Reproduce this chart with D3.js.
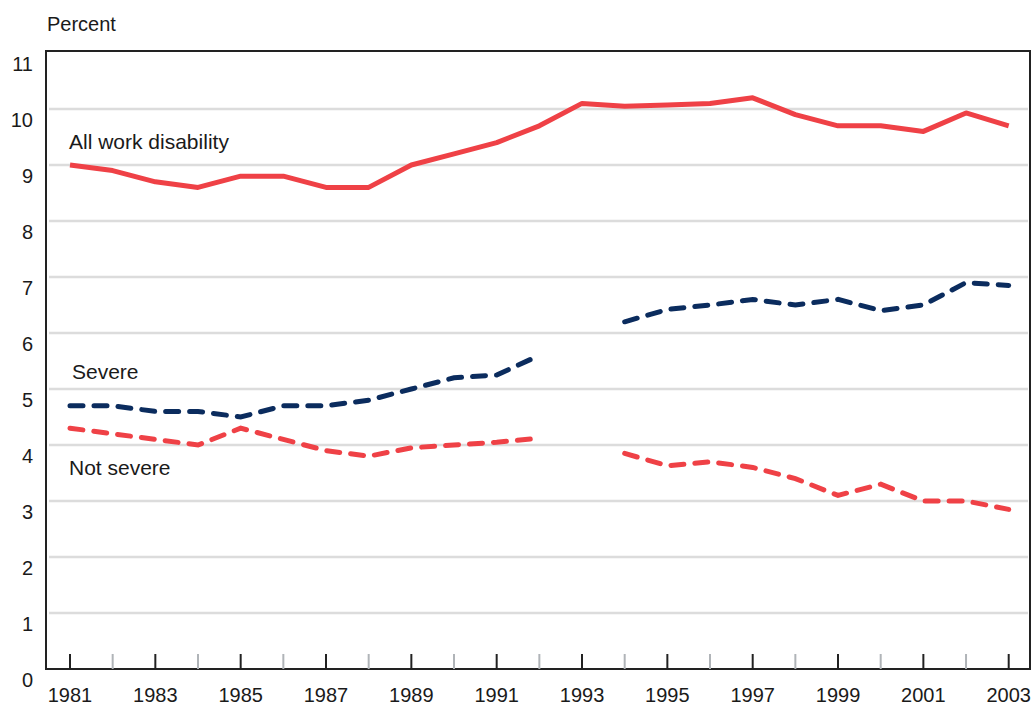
<!DOCTYPE html>
<html>
<head>
<meta charset="utf-8">
<script src="https://cdn.jsdelivr.net/npm/d3@7"></script>
<style>
  body { margin: 0; background: #fff; }
  text { font-family: "Liberation Sans", Arial, Helvetica, sans-serif; fill: #1a1a1a; }
</style>
</head>
<body>
<div id="chart"></div>
<script>
var years = d3.range(1981, 2004)
var allWork = [9.0, 8.9, 8.7, 8.6, 8.8, 8.8, 8.6, 8.6, 9.0, 9.2, 9.4, 9.7, 10.1, 10.05, 10.07, 10.1, 10.2, 9.9, 9.7, 9.7, 9.6, 9.93, 9.7]
var severe = [4.7, 4.7, 4.6, 4.6, 4.5, 4.7, 4.7, 4.8, 5.0, 5.2, 5.25, 5.6, null, 6.2, 6.42, 6.5, 6.6, 6.5, 6.6, 6.4, 6.5, 6.9, 6.85]
var notSevere = [4.3, 4.2, 4.1, 4.0, 4.3, 4.1, 3.9, 3.8, 3.95, 4.0, 4.05, 4.12, null, 3.85, 3.63, 3.7, 3.6, 3.4, 3.1, 3.3, 3.0, 3.0, 2.85]
var yTicks = [0, 1, 2, 3, 4, 5, 6, 7, 8, 9, 10, 11]
var xLabels = [1981, 1983, 1985, 1987, 1989, 1991, 1993, 1995, 1997, 1999, 2001, 2003]

var width = 1034,
    height = 708

var svg = d3.select("#chart")
  .append("svg")
    .attr("width", width)
    .attr("height", height)

var plotLeft = 46, plotRight = 1030, plotTop = 51, plotBottom = 669

var x = d3.scaleLinear()
  .domain([1981, 2003])
  .range([70, 1008.7])

var y = d3.scaleLinear()
  .domain([0, 11])
  .range([plotBottom, 53])

// gridlines
svg.selectAll("grid")
  .data(yTicks.filter(function(d) { return d > 0 && d < 11 }))
  .enter()
  .append("line")
    .attr("x1", plotLeft + 3)
    .attr("x2", plotRight - 2)
    .attr("y1", function(d) { return y(d) })
    .attr("y2", function(d) { return y(d) })
    .attr("stroke", "#dcdcdc")
    .attr("stroke-width", 2.5)

// frame
svg.append("path")
  .attr("d", "M" + plotLeft + "," + plotBottom + "V" + plotTop + "H" + plotRight + "V" + plotBottom + "Z")
  .attr("fill", "none")
  .attr("stroke", "#222")
  .attr("stroke-width", 2)

// x ticks
svg.selectAll("xtick")
  .data(years)
  .enter()
  .append("line")
    .attr("x1", function(d) { return x(d) })
    .attr("x2", function(d) { return x(d) })
    .attr("y1", plotBottom - 15)
    .attr("y2", plotBottom)
    .attr("stroke", function(d) { return d % 2 == 1 ? "#222" : "#b0b4b8" })
    .attr("stroke-width", 2)

svg.selectAll("xlabel")
  .data(xLabels)
  .enter()
  .append("text")
    .attr("x", function(d) { return x(d) })
    .attr("y", 702)
    .attr("text-anchor", "middle")
    .style("font-size", "20px")
    .text(function(d) { return d })

svg.selectAll("ylabel")
  .data(yTicks)
  .enter()
  .append("text")
    .attr("x", 33)
    .attr("y", function(d) { return y(d) + 18 })
    .attr("text-anchor", "end")
    .style("font-size", "20px")
    .text(function(d) { return d })

svg.append("text")
  .attr("x", 47)
  .attr("y", 31)
  .style("font-size", "20px")
  .text("Percent")

var line = d3.line()
  .defined(function(d) { return d[1] != null })
  .x(function(d) { return x(d[0]) })
  .y(function(d) { return y(d[1]) })

function pairs(vals) { return years.map(function(yr, i) { return [yr, vals[i]] }) }

svg.append("path")
  .attr("d", line(pairs(notSevere)))
  .attr("fill", "none")
  .attr("stroke", "#ef4146")
  .attr("stroke-width", 5)
  .attr("stroke-linecap", "round")
  .attr("stroke-dasharray", "13,11")

svg.append("path")
  .attr("d", line(pairs(severe)))
  .attr("fill", "none")
  .attr("stroke", "#0b2c5e")
  .attr("stroke-width", 5)
  .attr("stroke-linecap", "round")
  .attr("stroke-dasharray", "13,11")

svg.append("path")
  .attr("d", line(pairs(allWork)))
  .attr("fill", "none")
  .attr("stroke", "#ef4146")
  .attr("stroke-width", 5)
  .attr("stroke-linejoin", "round")

var labels = [["All work disability", 69, 149], ["Severe", 72, 379], ["Not severe", 69, 475]]
svg.selectAll("serieslabel")
  .data(labels)
  .enter()
  .append("text")
    .attr("x", function(d) { return d[1] })
    .attr("y", function(d) { return d[2] })
    .style("font-size", "21px")
    .text(function(d) { return d[0] })
</script>
</body>
</html>
